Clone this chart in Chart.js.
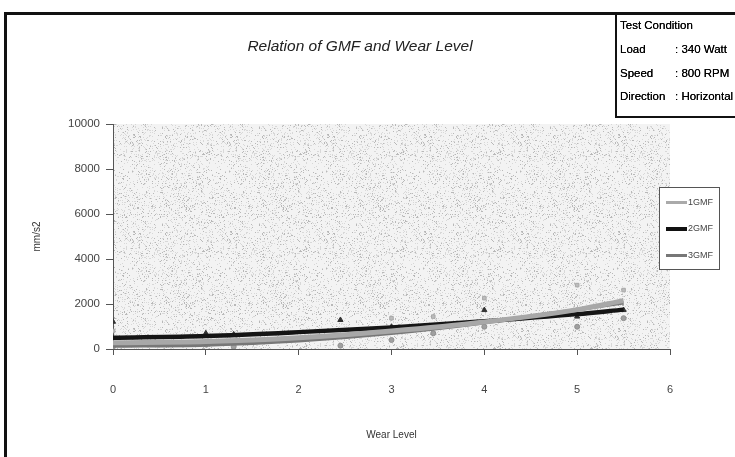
<!DOCTYPE html>
<html>
<head>
  <title>Relation of GMF and Wear Level</title>
  <script src="https://cdn.jsdelivr.net/npm/chart.js@4.4.0/dist/chart.umd.min.js"></script>
  <style>
    body { margin: 0; background: #fff; font-family: Arial, "Liberation Sans", sans-serif; }
    .wrap { position: relative; width: 735px; height: 457px; overflow: hidden; }
    #chart { position: absolute; left: 0; top: 0; }
    .frame {
      position: absolute; left: 4px; top: 12px; width: 800px; height: 500px;
      border-left: 3px solid #111; border-top: 3px solid #111;
    }
    .title {
      position: absolute; left: 200px; width: 320px; top: 37px;
      text-align: center; font-style: italic; font-size: 15.5px; color: #222;
    }
    .cond {
      position: absolute; left: 615px; top: 14px; width: 130px; height: 102px;
      border-left: 2px solid #111; border-bottom: 2px solid #111;
      font-size: 11.5px; color: #000; text-shadow: 0 0 0.4px #000;
    }
    .cond div { position: absolute; left: 3px; white-space: nowrap; }
    .cond span { position: absolute; left: 55px; }
    .legend {
      position: absolute; left: 659px; top: 187px; width: 59px; height: 81px;
      border: 1px solid #555; background: #fff; font-size: 9px; color: #444;
    }
    .legend div { position: absolute; left: 6px; white-space: nowrap; }
    .legend i { display: inline-block; width: 21px; vertical-align: middle; margin-right: 1px; }
  </style>
</head>
<body>
<div class="wrap">
  <canvas id="chart" width="735" height="457"></canvas>
  <div class="frame"></div>
  <div class="title">Relation of GMF and Wear Level</div>
  <div class="cond">
    <div style="top:5px">Test Condition</div>
    <div style="top:29px">Load<span>: 340 Watt</span></div>
    <div style="top:53px">Speed<span>: 800 RPM</span></div>
    <div style="top:76px">Direction<span>: Horizontal</span></div>
  </div>
  <div class="legend">
    <div style="top:9px"><i style="height:3px;background:#aaa"></i>1GMF</div>
    <div style="top:35px"><i style="height:4px;background:#111"></i>2GMF</div>
    <div style="top:62px"><i style="height:3px;background:#777"></i>3GMF</div>
  </div>
</div>

<script>
// measured points per wear level
var wearLevels = [0, 1, 1.3, 2.45, 3, 3.45, 4, 5, 5.5];
var gmf1 = [800, 300, 250, 550, 1370, 1440, 2260, 2840, 2620];
var gmf2 = [1210, 700, 650, 1290, 990, 1000, 1730, 1440, 1730];
var gmf3 = [100, 200, 100, 150, 400, 700, 990, 990, 1370];

// trend lines
var trendLevels = [0, 1, 2, 3, 4, 5, 5.5];
var trend1 = [280, 330, 500, 800, 1200, 1750, 2150];
var trend2 = [500, 580, 750, 960, 1230, 1550, 1750];
var trend3 = [130, 180, 370, 700, 1170, 1750, 2050];

var xTicks = [0, 1, 2, 3, 4, 5, 6];
var yTicks = [0, 2000, 4000, 6000, 8000, 10000];

function pts(xs, ys) {
  return xs.map(function(x, i) { return { x: x, y: ys[i] }; });
}

// stippled fill for the plot area
function stipple() {
  var c = document.createElement("canvas");
  c.width = 97; c.height = 97;
  var g = c.getContext("2d");
  g.fillStyle = "#f3f3f3";
  g.fillRect(0, 0, 97, 97);
  var s = 7;
  for (var i = 0; i < 1700; i++) {
    s = (s * 16807) % 2147483647;
    var x = s % 97;
    s = (s * 16807) % 2147483647;
    var y = s % 97;
    g.fillStyle = (i % 3 === 0) ? "#b8b8b8" : "#d8d8d8";
    g.fillRect(x, y, 1, 1);
  }
  return c;
}

var areaFill = {
  id: "areaFill",
  beforeDraw: function(chart) {
    var a = chart.chartArea, ctx = chart.ctx;
    ctx.save();
    ctx.fillStyle = ctx.createPattern(stipple(), "repeat");
    ctx.fillRect(a.left, a.top, a.right - a.left, a.bottom - a.top);
    ctx.restore();
  }
};

var ctx = document.getElementById("chart").getContext("2d");
new Chart(ctx, {
  type: "scatter",
  data: {
    datasets: [
      { label: "1GMF", data: pts(wearLevels, gmf1), pointStyle: "rect", pointRadius: 2.5,
        backgroundColor: "#bcbcbc", borderColor: "#a8a8a8", order: 6 },
      { label: "2GMF", data: pts(wearLevels, gmf2), pointStyle: "triangle", pointRadius: 3,
        backgroundColor: "#333", borderColor: "#333", order: 5 },
      { label: "3GMF", data: pts(wearLevels, gmf3), pointStyle: "circle", pointRadius: 2.5,
        backgroundColor: "#a0a0a0", borderColor: "#909090", order: 4 },
      { type: "line", label: "1GMF trend", data: pts(trendLevels, trend1), showLine: true,
        borderColor: "#a8a8a8", borderWidth: 5, pointRadius: 0, cubicInterpolationMode: "monotone", order: 1 },
      { type: "line", label: "2GMF trend", data: pts(trendLevels, trend2), showLine: true,
        borderColor: "#151515", borderWidth: 4.5, pointRadius: 0, cubicInterpolationMode: "monotone", order: 2 },
      { type: "line", label: "3GMF trend", data: pts(trendLevels, trend3), showLine: true,
        borderColor: "#777", borderWidth: 3.5, pointRadius: 0, cubicInterpolationMode: "monotone", order: 3 }
    ]
  },
  options: {
    responsive: false,
    animation: false,
    layout: { padding: { left: 25, right: 65, top: 124, bottom: 0 } },
    plugins: { legend: { display: false }, tooltip: { enabled: false } },
    scales: {
      x: {
        type: "linear", min: 0, max: 6,
        afterBuildTicks: function(s) { s.ticks = xTicks.map(function(v) { return { value: v }; }); },
        afterFit: function(s) { s.height = 108; },
        grid: { drawOnChartArea: false, tickLength: 6, color: "#555" },
        border: { color: "#555" },
        ticks: { padding: 28, color: "#444", font: { family: "Arial", size: 11 },
                 callback: function(v) { return String(v); } },
        title: { display: true, text: "Wear Level", color: "#333", padding: { top: 0, bottom: 16 },
                 font: { family: "Arial", size: 10 } }
      },
      y: {
        min: 0, max: 10000,
        afterBuildTicks: function(s) { s.ticks = yTicks.map(function(v) { return { value: v }; }); },
        afterFit: function(s) { s.width = 88; },
        grid: { drawOnChartArea: false, tickLength: 7, color: "#555" },
        border: { color: "#555" },
        ticks: { padding: 6, color: "#444", font: { family: "Arial", size: 11.5 },
                 callback: function(v) { return String(v); } },
        title: { display: true, text: "mm/s2", color: "#333", padding: { top: 6, bottom: 0 },
                 font: { family: "Arial", size: 10 } }
      }
    }
  },
  plugins: [areaFill]
});
</script>
</body>
</html>
